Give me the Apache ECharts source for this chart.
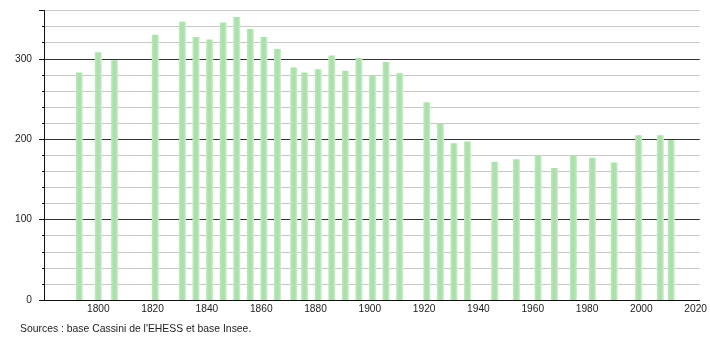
<!DOCTYPE html>
<html><head><meta charset="utf-8">
<script src="https://cdn.jsdelivr.net/npm/echarts@6/dist/echarts.min.js"></script>
<style>html,body{margin:0;padding:0;background:#fff}#c{width:710px;height:340px}</style>
</head><body><div id="c"></div>
<script>
const years = [1793,1800,1806,1821,1831,1836,1841,1846,1851,1856,1861,1866,1872,1876,1881,1886,1891,1896,1901,1906,1911,1921,1926,1931,1936,1946,1954,1962,1968,1975,1982,1990,1999,2007,2011];
const population = [283,308,298,330,346,327,324,345,352,337,327,312,289,283,287,304,285,301,279,296,282,246,219,195,197,172,175,180,164,180,177,171,205,205,199];
const xTickLabels = ['1800','1820','1840','1860','1880','1900','1920','1940','1960','1980','2000','2020'];
const yTickLabels = ['0','100','200','300'];
const sourceText = "Sources : base Cassini de l'EHESS et base Insee.";

const chart = echarts.init(document.getElementById('c'));
const font = 'Liberation Sans, Arial, sans-serif';
chart.setOption({
  animation: false,
  grid: {left: 44, right: 10, top: 10.5, bottom: 40, containLabel: false},
  xAxis: {
    type: 'value', min: 1780, max: 2021.5, interval: 20,
    axisLine: {show: true, lineStyle: {color: '#111', width: 1}},
    axisTick: {show: false},
    splitLine: {show: false},
    axisLabel: {
      margin: 4, color: '#222', fontFamily: font, fontSize: 10.2,
      showMinLabel: true, showMaxLabel: true,
      formatter: v => xTickLabels.includes(String(v)) ? String(v) : ''
    }
  },
  yAxis: [{
    type: 'value', min: 0, max: 360, interval: 20,
    axisLine: {show: true, lineStyle: {color: '#111', width: 1}},
    axisTick: {show: true, length: 2, lineStyle: {color: '#111'}},
    splitLine: {show: true, lineStyle: {color: ['#333', '#c8c8c8', '#c8c8c8', '#c8c8c8', '#c8c8c8'], width: 1}},
    axisLabel: {
      margin: 12, color: '#222', fontFamily: font, fontSize: 10.2,
      formatter: v => yTickLabels.includes(String(v)) ? String(v) : ''
    }
  }, {
    type: 'value', min: 0, max: 360, interval: 100, position: 'left',
    axisLine: {show: false}, axisLabel: {show: false}, splitLine: {show: false},
    axisTick: {show: true, length: 5, lineStyle: {color: '#111'}}
  }],
  series: [{
    type: 'bar', barWidth: 7, yAxisIndex: 0,
    data: years.map((y, i) => [y, population[i]]),
    itemStyle: {
      color: new echarts.graphic.LinearGradient(0, 0, 1, 0, [
        {offset: 0, color: '#bfe8bf'},
        {offset: 0.4, color: '#a9dfa9'},
        {offset: 0.7, color: '#ade1ad'},
        {offset: 1, color: '#d2f0d2'}
      ])
    }
  }],
  graphic: [{
    type: 'text', left: 20, top: 324,
    style: {text: sourceText, fill: '#222', font: '10.4px ' + font}
  }]
});
</script></body></html>
